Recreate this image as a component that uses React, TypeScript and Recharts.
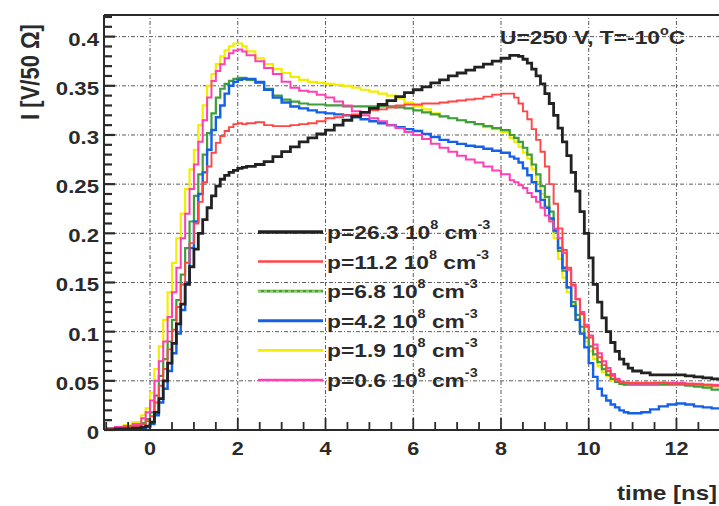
import * as React from "react";
import { LineChart, Line, XAxis, YAxis, ReferenceLine } from "recharts";

// time axis (ns): finer sampling where the pulses rise and fall
const time = [
  -1.0, -0.8, -0.6, -0.4,
  -0.2, -0.1, 0, 0.1, 0.2, 0.3, 0.4, 0.5, 0.6, 0.7, 0.8, 0.9, 1.0, 1.1, 1.2, 1.3, 1.4, 1.5, 1.6, 1.7, 1.8, 1.9, 2.0, 2.1, 2.2,
  2.4, 2.6, 2.8, 3.0, 3.2, 3.4, 3.6, 3.8, 4.0, 4.2, 4.4, 4.6, 4.8, 5.0, 5.2, 5.4, 5.6, 5.8, 6.0, 6.2, 6.4, 6.6, 6.8, 7.0, 7.2, 7.4, 7.6, 7.8, 8.0, 8.2,
  8.3, 8.4, 8.5, 8.6, 8.7, 8.8, 8.9, 9.0, 9.1, 9.2, 9.3, 9.4, 9.5, 9.6, 9.7, 9.8, 9.9, 10.0, 10.1, 10.2, 10.3, 10.4, 10.5, 10.6, 10.7, 10.8, 10.9, 11.0,
  11.2, 11.4, 11.6, 11.8, 12.0, 12.2, 12.4, 12.6, 12.8, 13.0,
];

const p263 = [
  0.0, 0.001, 0.001, 0.002,
  0.003, 0.004, 0.008, 0.018, 0.032, 0.05, 0.068, 0.088, 0.108, 0.128, 0.148, 0.166, 0.184, 0.2, 0.214, 0.226, 0.238, 0.248, 0.255, 0.259, 0.262, 0.264, 0.266, 0.267, 0.268,
  0.27, 0.273, 0.278, 0.283, 0.288, 0.293, 0.297, 0.301, 0.305, 0.31, 0.315, 0.319, 0.323, 0.327, 0.331, 0.335, 0.339, 0.343, 0.346, 0.349, 0.353, 0.356, 0.36, 0.363, 0.366, 0.369, 0.372, 0.375, 0.378, 0.381,
  0.381, 0.38, 0.377, 0.373, 0.367, 0.36, 0.352, 0.342, 0.332, 0.32, 0.307, 0.293, 0.279, 0.262, 0.243, 0.222, 0.2, 0.175, 0.148, 0.13, 0.114, 0.1, 0.089, 0.08, 0.072, 0.067, 0.063, 0.06,
  0.058, 0.056, 0.056, 0.056, 0.056, 0.055, 0.054, 0.053, 0.052, 0.051,
];

const p112 = [
  0.001, 0.002, 0.003, 0.004,
  0.006, 0.009, 0.014, 0.028, 0.045, 0.062, 0.082, 0.102, 0.125, 0.148, 0.17, 0.19, 0.21, 0.232, 0.252, 0.268, 0.282, 0.292, 0.299, 0.304, 0.308, 0.311, 0.312, 0.311, 0.312,
  0.313, 0.31, 0.309, 0.309, 0.31, 0.311, 0.312, 0.314, 0.317, 0.318, 0.32, 0.321, 0.323, 0.325, 0.326, 0.328, 0.33, 0.331, 0.331, 0.332, 0.332, 0.333, 0.334, 0.335, 0.336, 0.337, 0.339, 0.341, 0.342, 0.342,
  0.338, 0.332, 0.324, 0.316, 0.306, 0.295, 0.283, 0.268, 0.25, 0.23, 0.205, 0.183, 0.165, 0.148, 0.133, 0.118, 0.105, 0.094, 0.083, 0.074, 0.066, 0.06, 0.055, 0.051, 0.049, 0.048, 0.048, 0.048,
  0.048, 0.048, 0.048, 0.047, 0.047, 0.047, 0.046, 0.046, 0.045, 0.045,
];

const p68 = [
  0.001, 0.002, 0.003, 0.004,
  0.007, 0.011, 0.018, 0.035, 0.055, 0.072, 0.09, 0.112, 0.132, 0.158, 0.185, 0.212, 0.238, 0.26, 0.28, 0.302, 0.322, 0.338, 0.347, 0.352, 0.355, 0.357, 0.358, 0.358, 0.356,
  0.353, 0.347, 0.34, 0.336, 0.334, 0.332, 0.331, 0.331, 0.33, 0.33, 0.329, 0.329, 0.329, 0.329, 0.329, 0.329, 0.328, 0.327, 0.325, 0.323, 0.321, 0.319, 0.317, 0.315, 0.313, 0.311, 0.309, 0.307, 0.305, 0.3,
  0.297, 0.293, 0.287, 0.28, 0.27, 0.26, 0.248, 0.237, 0.222, 0.202, 0.182, 0.162, 0.145, 0.13, 0.117, 0.105, 0.094, 0.085, 0.077, 0.069, 0.062, 0.056, 0.052, 0.049, 0.047, 0.046, 0.046, 0.046,
  0.046, 0.046, 0.046, 0.046, 0.046, 0.045, 0.044, 0.043, 0.041, 0.04,
];

const p42 = [
  0.0, 0.0, 0.001, 0.001,
  0.002, 0.003, 0.006, 0.015, 0.028, 0.042, 0.06, 0.078, 0.098, 0.122, 0.15, 0.185, 0.212, 0.24, 0.262, 0.285, 0.305, 0.318, 0.33, 0.342, 0.35, 0.354, 0.356, 0.357, 0.357,
  0.354, 0.346, 0.338, 0.333, 0.329, 0.327, 0.325, 0.323, 0.322, 0.321, 0.32, 0.318, 0.316, 0.314, 0.312, 0.31, 0.308, 0.306, 0.304, 0.301, 0.298, 0.295, 0.293, 0.291, 0.289, 0.288, 0.286, 0.284, 0.282, 0.278,
  0.276, 0.272, 0.266, 0.259, 0.252, 0.243, 0.234, 0.226, 0.215, 0.203, 0.185, 0.165, 0.145, 0.126, 0.112, 0.098, 0.084, 0.068, 0.054, 0.042, 0.035, 0.03, 0.026, 0.023, 0.02, 0.018, 0.017, 0.017,
  0.018, 0.021, 0.024, 0.026, 0.027, 0.026, 0.024, 0.023, 0.022, 0.021,
];

const p19 = [
  0.002, 0.003, 0.005, 0.008,
  0.015, 0.022, 0.038, 0.062, 0.085, 0.112, 0.14, 0.17, 0.195, 0.22, 0.245, 0.265, 0.285, 0.31, 0.33, 0.35, 0.362, 0.372, 0.38, 0.386, 0.39, 0.393, 0.393, 0.39, 0.385,
  0.378, 0.372, 0.367, 0.363, 0.359, 0.356, 0.354, 0.353, 0.352, 0.351, 0.35, 0.348, 0.346, 0.344, 0.342, 0.34, 0.337, 0.333, 0.329, 0.326, 0.322, 0.319, 0.317, 0.315, 0.313, 0.311, 0.308, 0.306, 0.303, 0.297,
  0.293, 0.288, 0.282, 0.276, 0.265, 0.252, 0.24, 0.228, 0.213, 0.195, 0.174, 0.155, 0.14, 0.127, 0.113, 0.1, 0.09, 0.08, 0.072, 0.065, 0.059, 0.055, 0.051, 0.049, 0.047, 0.046, 0.046, 0.046,
  0.046, 0.046, 0.047, 0.047, 0.047, 0.046, 0.046, 0.045, 0.044, 0.044,
];

const p06 = [
  0.002, 0.003, 0.004, 0.006,
  0.012, 0.018, 0.03, 0.05, 0.07, 0.09, 0.115, 0.14, 0.165, 0.195, 0.22, 0.245, 0.27, 0.293, 0.315, 0.338, 0.355, 0.365, 0.372, 0.378, 0.383, 0.386, 0.387, 0.385, 0.381,
  0.375, 0.368, 0.362, 0.354, 0.348, 0.345, 0.344, 0.341, 0.338, 0.334, 0.33, 0.324, 0.32, 0.317, 0.314, 0.31, 0.307, 0.303, 0.3, 0.296, 0.291, 0.287, 0.283, 0.279, 0.275, 0.272, 0.268, 0.264, 0.26, 0.254,
  0.252, 0.249, 0.246, 0.241, 0.237, 0.232, 0.226, 0.218, 0.212, 0.205, 0.195, 0.18, 0.163, 0.147, 0.133, 0.12, 0.107, 0.096, 0.087, 0.078, 0.07, 0.063, 0.057, 0.052, 0.049, 0.048, 0.047, 0.047,
  0.047, 0.047, 0.048, 0.048, 0.048, 0.047, 0.047, 0.046, 0.046, 0.045,
];

const series = [
  { key: "p19", values: p19, color: "#f2ee00", width: 2.2, label: "1.9" },
  { key: "p68", values: p68, color: "#3f9e3a", width: 2.2, label: "6.8" },
  { key: "p42", values: p42, color: "#1560e8", width: 2.4, label: "4.2" },
  { key: "p06", values: p06, color: "#ff40b4", width: 2, label: "0.6" },
  { key: "p112", values: p112, color: "#ff4646", width: 1.9, label: "11.2" },
  { key: "p263", values: p263, color: "#222222", width: 2.8, label: "26.3" },
];

// legend order as printed on the plot
const legendOrder = ["p263", "p112", "p68", "p42", "p19", "p06"];

const xMajor = [0, 2, 4, 6, 8, 10, 12];
const xMinor = [-1, -0.5, 0, 0.5, 1, 1.5, 2, 2.5, 3, 3.5, 4, 4.5, 5, 5.5, 6, 6.5, 7, 7.5, 8, 8.5, 9, 9.5, 10, 10.5, 11, 11.5, 12, 12.5];
const yMajor = [0, 0.05, 0.1, 0.15, 0.2, 0.25, 0.3, 0.35, 0.4];
const yMajorLabels = ["0", "0.05", "0.1", "0.15", "0.2", "0.25", "0.3", "0.35", "0.4"];
const yMinor = Array.from({ length: 43 }, (_, i) => Math.round(i * 0.01 * 100) / 100);

const X_DOMAIN: [number, number] = [-1.05, 12.97];
const Y_DOMAIN: [number, number] = [0, 0.422];

const FONT = "'Liberation Sans', Arial, Helvetica, sans-serif";
const INK = "#2a2a2a";
const GRID = "#5a5a5a";
const STRETCH = 1.2; // the scanned original is a little wider than tall

const data = time.map((t, i) => {
  const row: any = { t };
  series.forEach((s) => (row[s.key] = s.values[i]));
  return row;
});

const isMajorY = (v: number) => yMajor.some((m) => Math.abs(m - v) < 1e-6);
const isMajorX = (v: number) => xMajor.some((m) => Math.abs(m - v) < 1e-6);

// bold text stretched horizontally around its anchor point
const SText = ({ x, y, size, anchor = "start", children }: any) => (
  <text
    transform={`translate(${x} ${y}) scale(${STRETCH} 1)`}
    textAnchor={anchor}
    fontFamily={FONT}
    fontWeight="bold"
    fontSize={size}
    fill={INK}
  >
    {children}
  </text>
);

const YTick = (props: any) => {
  const { x, y, payload } = props;
  const v = payload.value;
  const axisX = x + 4;
  const major = isMajorY(v);
  const idx = yMajor.findIndex((m) => Math.abs(m - v) < 1e-6);
  return (
    <g>
      <line x1={axisX} x2={axisX + (major ? 11 : 8)} y1={y} y2={y} stroke={INK} strokeWidth={2.2} />
      {major && (
        <SText x={x - 1} y={y + 9} size={18.5} anchor="end">
          {yMajorLabels[idx]}
        </SText>
      )}
    </g>
  );
};

const XTick = (props: any) => {
  const { x, y, payload } = props;
  const v = payload.value;
  const axisY = y - 4;
  const major = isMajorX(v);
  return (
    <g>
      <line x1={x} x2={x} y1={axisY} y2={axisY - (major ? 12 : 8)} stroke={INK} strokeWidth={1.8} />
      {major && (
        <SText x={x} y={y + 21} size={18} anchor="middle">
          {v}
        </SText>
      )}
    </g>
  );
};

const Overlay = () => {
  const rowY = (i: number) => 232 + i * 29.6;
  return (
    <svg width={719} height={506} style={{ position: "absolute", left: 0, top: 0, pointerEvents: "none" }}>
      <text
        transform={`translate(39 72) rotate(-90) scale(1 ${STRETCH})`}
        textAnchor="middle"
        fontFamily={FONT}
        fontWeight="bold"
        fontSize={22}
        fill={INK}
      >
        I [V/50 Ω]
      </text>
      <SText x={717} y={500} size={20} anchor="end">
        time [ns]
      </SText>
      <SText x={500} y={44} size={19}>
        U=250 V, T=-10
        <tspan fontSize={12} dy={-9}>o</tspan>
        <tspan dy={9}>C</tspan>
      </SText>
      {legendOrder.map((k, i) => {
        const s = series.find((z) => z.key === k)!;
        const cy = rowY(i);
        return (
          <g key={k}>
            <line x1={258} x2={323} y1={cy} y2={cy} stroke={s.color} strokeWidth={s.width + 0.6} />
            {k === "p68" && (
              <line x1={258} x2={323} y1={cy} y2={cy} stroke="#c9dc5a" strokeWidth={1.2} strokeDasharray="3 3" />
            )}
            <SText x={327} y={cy + 7} size={19}>
              {"p=" + s.label + " 10"}
              <tspan fontSize={12} dy={-10}>8</tspan>
              <tspan dy={10}>{" cm"}</tspan>
              <tspan fontSize={12} dy={-10}>-3</tspan>
            </SText>
          </g>
        );
      })}
    </svg>
  );
};

export default function App() {
  return (
    <div style={{ position: "absolute", left: 0, top: 0, width: 719, height: 506, background: "#fff" }}>
      <LineChart width={719} height={506} data={data} margin={{ top: 15, right: 0, bottom: 46, left: 44 }}>
        {yMajor.slice(1).map((v) => (
          <ReferenceLine key={"gy" + v} y={v} stroke={GRID} strokeWidth={1} strokeDasharray="4 2 1 2" />
        ))}
        {xMajor.map((v) => (
          <ReferenceLine key={"gx" + v} x={v} stroke={GRID} strokeWidth={1} strokeDasharray="4 2 1 2" />
        ))}
        <ReferenceLine y={Y_DOMAIN[1]} stroke={INK} strokeWidth={2} />
        <XAxis
          dataKey="t"
          type="number"
          domain={X_DOMAIN}
          allowDataOverflow
          ticks={xMinor}
          interval={0}
          height={30}
          tickSize={0}
          tickMargin={4}
          tick={<XTick />}
          axisLine={{ stroke: INK, strokeWidth: 2.2 }}
          tickLine={false}
        />
        <YAxis
          type="number"
          domain={Y_DOMAIN}
          allowDataOverflow
          ticks={yMinor}
          interval={0}
          width={60}
          tickSize={0}
          tickMargin={4}
          tick={<YTick />}
          axisLine={{ stroke: INK, strokeWidth: 2 }}
          tickLine={false}
        />
        {series.map((s) => (
          <Line
            key={s.key}
            type="stepAfter"
            dataKey={s.key}
            stroke={s.color}
            strokeWidth={s.width}
            dot={false}
            activeDot={false}
            isAnimationActive={false}
          />
        ))}
      </LineChart>
      <Overlay />
    </div>
  );
}
